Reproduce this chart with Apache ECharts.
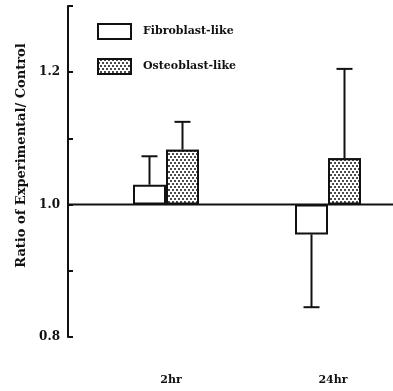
<!DOCTYPE html>
<html>
<head>
<meta charset="utf-8">
<script src="https://cdn.jsdelivr.net/npm/echarts@6/dist/echarts.min.js"></script>
<style>
  html, body { margin: 0; padding: 0; background: #fff; }
  #chart { width: 393px; height: 391px; }
</style>
</head>
<body>
<div id="chart"></div>
<script>
const categories = ["2hr", "24hr"];
const fibroblast = [1.03, 0.955];
const fibroblastSD = [0.043, 0.11];
const osteoblast = [1.083, 1.07];
const osteoblastSD = [0.042, 0.135];
const yTickLabels = ["0.8", "1.0", "1.2"];
const referenceLevel = 1.0;

const INK = "#111";
const FONT = "DejaVu Serif";
const BAR_W = 33;
const AXIS_OFFSET = 17;

const dotted = {
  symbol: "circle",
  symbolSize: 1,
  color: INK,
  backgroundColor: "#fff",
  dashArrayX: [[2, 1.5], [0, 1.75, 2, -0.25]],
  dashArrayY: [2, 1],
};

// bars hang from the 1.0 line: transparent base + visible delta
const base = (vals) => vals.map((v) => Math.min(v, referenceLevel));
const delta = (vals) => vals.map((v) => Math.abs(v - referenceLevel));
const errEnd = (vals, sd) => vals.map((v, i) => (v >= referenceLevel ? v + sd[i] : v - sd[i]));

const fEnd = errEnd(fibroblast, fibroblastSD);
const oEnd = errEnd(osteoblast, osteoblastSD);
const errData = [
  ...categories.map((c, i) => [i, fibroblast[i], fEnd[i], -1]),
  ...categories.map((c, i) => [i, osteoblast[i], oEnd[i], 1]),
];

const chart = echarts.init(document.getElementById("chart"), null, { renderer: "canvas" });
chart.setOption({
  backgroundColor: "#fff",
  animation: false,
  textStyle: { fontFamily: FONT, fontWeight: "bold", color: INK },
  grid: { left: 85, right: -16, top: 6, bottom: 54, outerBoundsMode: "none" },
  legend: {
    left: 92,
    top: 18,
    orient: "vertical",
    icon: "rect",
    itemWidth: 33,
    itemHeight: 15,
    itemGap: 18,
    data: ["Fibroblast-like", "Osteoblast-like"],
    itemStyle: { borderColor: INK, borderWidth: 2 },
    textStyle: { fontFamily: FONT, fontWeight: "bold", fontSize: 11, color: INK, padding: [0, 0, 0, 7] },
  },
  xAxis: {
    type: "category",
    data: categories,
    axisLine: { show: false },
    axisTick: { show: false },
    axisLabel: { margin: 38, fontFamily: FONT, fontWeight: "bold", fontSize: 11, color: INK, padding: [0, 0, 0, 10] },
  },
  yAxis: {
    type: "value",
    min: 0.8,
    max: 1.3,
    interval: 0.1,
    offset: AXIS_OFFSET,
    splitLine: { show: false },
    axisLine: { show: true, lineStyle: { color: INK, width: 2 } },
    axisTick: { show: true, inside: true, length: 5, lineStyle: { color: INK, width: 2 } },
    axisLabel: {
      margin: 8,
      fontFamily: FONT,
      fontWeight: "bold",
      fontSize: 12,
      color: INK,
      formatter: (v) => (yTickLabels.includes(v.toFixed(1)) ? v.toFixed(1) : ""),
    },
    name: "Ratio of Experimental/ Control",
    nameLocation: "middle",
    nameGap: 37,
    nameTextStyle: { fontFamily: FONT, fontWeight: "bold", fontSize: 13, color: INK, padding: [0, 0, 0, 32] },
  },
  series: [
    {
      name: "fBase",
      type: "bar",
      stack: "f",
      barWidth: BAR_W,
      barGap: 0,
      data: base(fibroblast),
      itemStyle: { color: "transparent" },
      silent: true,
    },
    {
      name: "Fibroblast-like",
      type: "bar",
      stack: "f",
      barWidth: BAR_W,
      barGap: 0,
      data: delta(fibroblast),
      itemStyle: { color: "#fff", borderColor: INK, borderWidth: 2 },
    },
    {
      name: "oBase",
      type: "bar",
      stack: "o",
      barWidth: BAR_W,
      barGap: 0,
      data: base(osteoblast),
      itemStyle: { color: "transparent" },
      silent: true,
    },
    {
      name: "Osteoblast-like",
      type: "bar",
      stack: "o",
      barWidth: BAR_W,
      barGap: 0,
      data: delta(osteoblast),
      itemStyle: { color: "#fff", borderColor: INK, borderWidth: 2, decal: dotted },
    },
    {
      name: "errors",
      type: "custom",
      z: 3,
      data: errData,
      renderItem: (params, api) => {
        const top = api.coord([api.value(0), api.value(1)]);
        const end = api.coord([api.value(0), api.value(2)]);
        const x = top[0] + api.value(3) * BAR_W / 2;
        const st = { stroke: INK, lineWidth: 2 };
        return {
          type: "group",
          children: [
            { type: "line", shape: { x1: x, y1: top[1], x2: x, y2: end[1] }, style: st },
            { type: "line", shape: { x1: x - 8, y1: end[1], x2: x + 8, y2: end[1] }, style: st },
          ],
        };
      },
    },
    {
      name: "baseline",
      type: "custom",
      z: 4,
      clip: false,
      data: [[0, referenceLevel]],
      renderItem: (params, api) => {
        const y = api.coord([0, api.value(1)])[1];
        const cs = params.coordSys;
        return {
          type: "line",
          shape: { x1: cs.x - AXIS_OFFSET, y1: y, x2: cs.x + cs.width, y2: y },
          style: { stroke: INK, lineWidth: 2 },
        };
      },
    },
  ],
});
</script>
</body>
</html>
